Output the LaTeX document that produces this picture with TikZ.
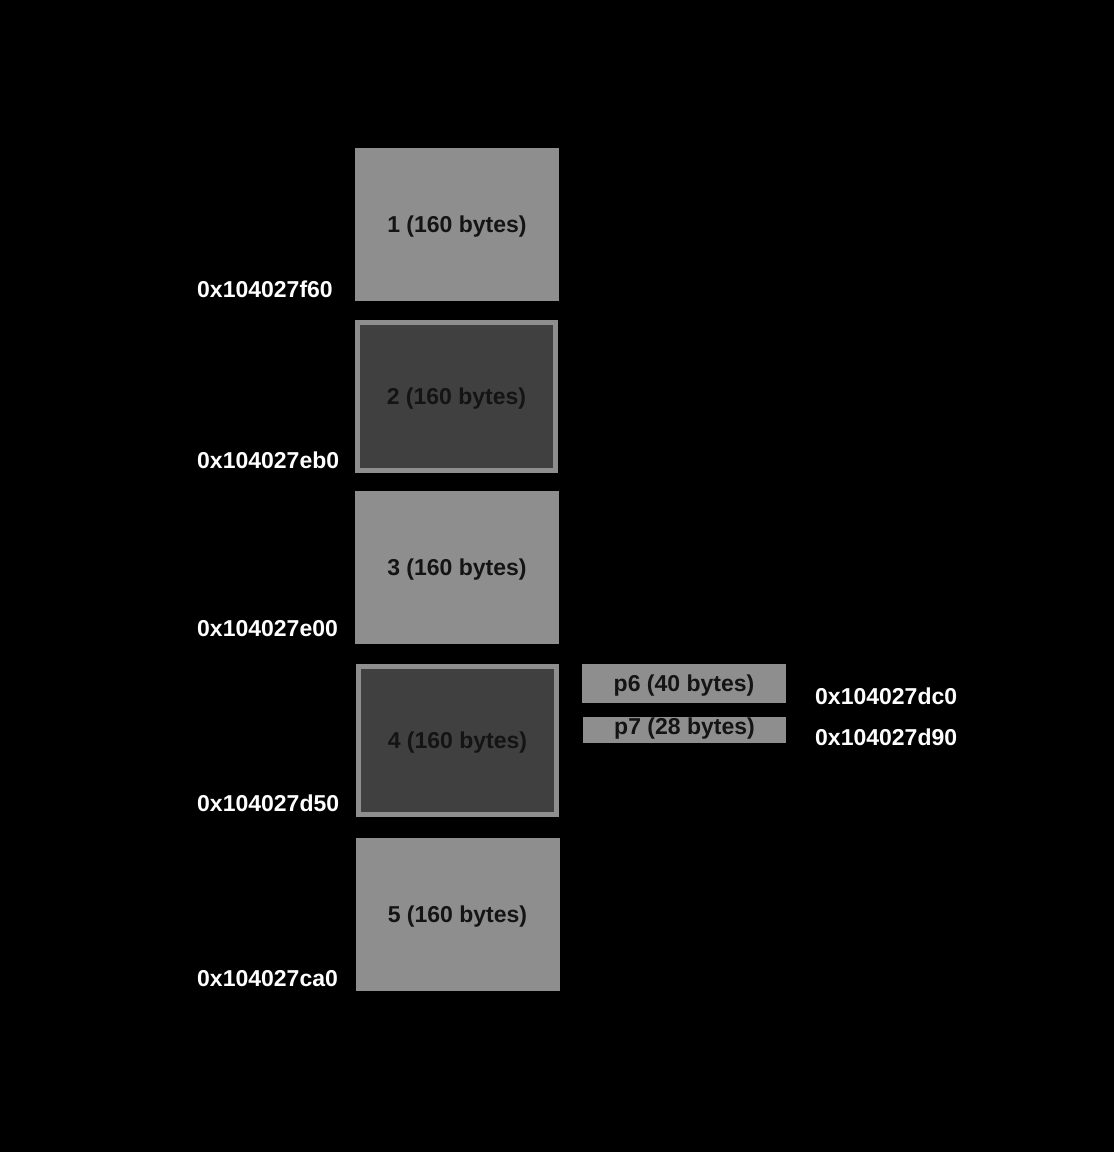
\documentclass[tikz,border=0pt]{standalone}
\usepackage{fontspec}
\setmainfont{Liberation Sans}
\usepackage{tikz}
\usetikzlibrary{positioning}
\definecolor{usedgray}{HTML}{8E8E8E}
\definecolor{freegray}{HTML}{404040}
\definecolor{inktext}{HTML}{141414}

\begin{document}
\begin{tikzpicture}[x=1pt,y=-1pt,
	used/.style={rectangle,fill=usedgray,inner sep=0pt,minimum width=204pt,minimum height=153pt,text=inktext,font=\bfseries\fontsize{23}{23}\selectfont,text height=16.5pt,text depth=0pt},
	free/.style={used,fill=freegray,draw=usedgray,line width=5pt,minimum width=198pt,minimum height=148pt},
	addr/.style={anchor=base west,inner sep=0pt,text=white,font=\bfseries\fontsize{23}{23}\selectfont}]
	\fill[black] (0,0) rectangle (1114,1152);
	\useasboundingbox (0,0) rectangle (1114,1152);
	
	% blocks
	
	\foreach \i/\x/\y/\s in {1/457/224.5/used,2/456.5/396.5/free,3/457/567.5/used,4/457.5/740.5/free,5/457.5/914.5/used} {
		\node[\s] (B\i) at (\x,\y) {\i{} (160 bytes)};
	}
	\foreach \i/\y/\a in {1/297/f60,2/468/eb0,3/636/e00,4/811/d50,5/986/ca0} {
		\node[addr] (A\i) at (197,\y) {0x104027\a};
	}
	
	% pieces
	
	\node[used,minimum width=204pt,minimum height=39pt] (P6) at (684,683.5) {p6 (40 bytes)};
	\node[used,minimum width=203pt,minimum height=26pt,text depth=8pt] (P7) at (684.5,730) {p7 (28 bytes)};
	\node[addr] (A6) at (815,704) {0x104027dc0};
	\node[addr] (A7) at (815,745) {0x104027d90};
	
\end{tikzpicture}
\end{document}
